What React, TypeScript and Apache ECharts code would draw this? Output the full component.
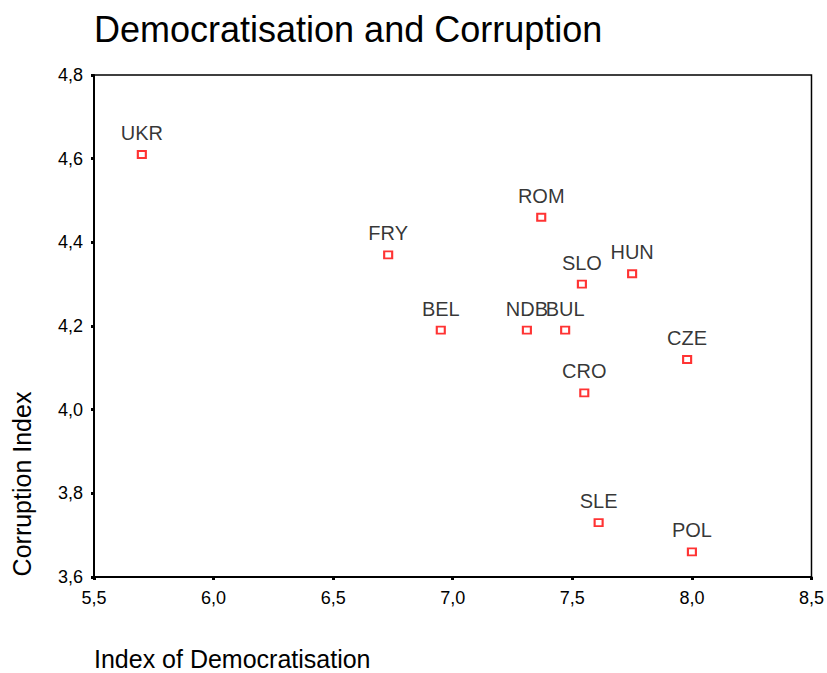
import React, { useEffect, useRef } from "react";
import * as echarts from "echarts";

const countries = ["UKR", "FRY", "ROM", "SLO", "HUN", "BEL", "NDB", "BUL", "CZE", "CRO", "SLE", "POL"];
const democratisation = [5.70, 6.73, 7.37, 7.54, 7.75, 6.95, 7.31, 7.47, 7.98, 7.55, 7.61, 8.00];
const corruption = [4.61, 4.37, 4.46, 4.30, 4.325, 4.19, 4.19, 4.19, 4.12, 4.04, 3.73, 3.66];

const fmt = (v: number) => v.toFixed(1).replace(".", ",");
const FONT = "'Liberation Sans', Arial, sans-serif";

export default function App() {
  const ref = useRef<HTMLDivElement>(null);
  useEffect(() => {
    if (!ref.current) return;
    const chart = echarts.init(ref.current, undefined, { renderer: "svg" });
    const data = countries.map((c, i) => ({ name: c, value: [democratisation[i], corruption[i]] }));
    chart.setOption({
      animation: false,
      backgroundColor: "#ffffff",
      textStyle: { fontFamily: FONT },
      grid: { left: 94, top: 75, right: 14, bottom: 96, show: true, borderColor: "#000", borderWidth: 1.5, backgroundColor: "transparent" },
      xAxis: {
        type: "value", min: 5.5, max: 8.5, interval: 0.5,
        axisLine: { show: true, onZero: false, lineStyle: { color: "#000", width: 2 } },
        axisTick: { show: true, length: 3, lineStyle: { color: "#000", width: 3 } },
        axisLabel: { formatter: fmt, color: "#000", fontSize: 18, fontFamily: FONT, margin: 12 },
        splitLine: { show: false },
      },
      yAxis: {
        type: "value", min: 3.6, max: 4.8, interval: 0.2,
        axisLine: { show: true, onZero: false, lineStyle: { color: "#000", width: 2 } },
        axisTick: { show: true, length: 3, lineStyle: { color: "#000", width: 3 } },
        axisLabel: { formatter: fmt, color: "#000", fontSize: 18, fontFamily: FONT, margin: 11 },
        splitLine: { show: false },
      },
      series: [{
        type: "scatter",
        data,
        symbol: "rect",
        symbolSize: [8, 7],
        itemStyle: { color: "#ffffff", borderColor: "#ff0000", borderWidth: 2 },
        label: {
          show: true, position: "top", distance: 7, formatter: "{b}",
          color: "#000", fontSize: 20, fontFamily: FONT,
        },
      }],
      graphic: [
        { type: "text", left: 94, top: 11, style: { text: "Democratisation and Corruption", fontSize: 36, fontFamily: FONT, fill: "#000" } },
        { type: "text", left: 94, top: 646, style: { text: "Index of Democratisation", fontSize: 25, fontFamily: FONT, fill: "#000" } },
        { type: "text", x: 22, y: 484, rotation: Math.PI / 2, style: { text: "Corruption Index", fontSize: 25, fontFamily: FONT, fill: "#000", align: "center", verticalAlign: "middle" } },
      ],
    });
    return () => chart.dispose();
  }, []);
  return <div ref={ref} style={{ width: 827, height: 673, position: "absolute", left: 0, top: 0 }} />;
}
